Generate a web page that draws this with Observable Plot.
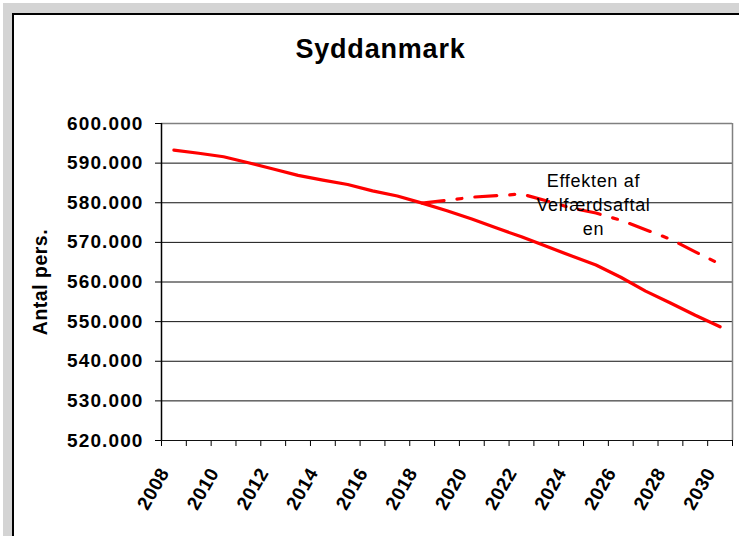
<!DOCTYPE html>
<html>
<head>
<meta charset="utf-8">
<script src="https://cdn.jsdelivr.net/npm/d3@7"></script>
<script src="https://cdn.jsdelivr.net/npm/@observablehq/plot@0.6"></script>
<style>
html, body { margin: 0; padding: 0; background: #fff; }
#wrap { position: relative; width: 739px; height: 536px; overflow: hidden; }
#gray { position: absolute; left: 3px; top: 3px; right: 0; bottom: 0; background: #d4d4d4; }
#panel { position: absolute; left: 12px; top: 13px; width: 800px; height: 600px; background: #fff; border-left: 2px solid #000; border-top: 2px solid #000; }
#title { position: absolute; left: 12px; width: 737px; top: 36px; text-align: center; font: bold 27px/27px "Liberation Sans", Arial, sans-serif; letter-spacing: 0.8px; color: #000; }
#chart { position: absolute; left: 0; top: 0; }
</style>
</head>
<body>
<div id="wrap">
  <div id="gray"></div>
  <div id="panel"></div>
  <div id="title">Syddanmark</div>
  <div id="chart"></div>
</div>
<script>
const years = [2008, 2009, 2010, 2011, 2012, 2013, 2014, 2015, 2016, 2017, 2018, 2019,
               2020, 2021, 2022, 2023, 2024, 2025, 2026, 2027, 2028, 2029, 2030];
const baseline = [593300, 592500, 591600, 590100, 588500, 586900, 585700, 584600, 583000, 581700,
                  579900, 578000, 575900, 573600, 571400, 569000, 566600, 564300, 561200, 557700,
                  554700, 551600, 548700];
const effectYears = [2018, 2019, 2020, 2021, 2022, 2023, 2024, 2025, 2026, 2027, 2028, 2029, 2030];
const effect = [579900, 580600, 581400, 581800, 582200, 580500, 578700, 577400, 575600, 573200,
                570800, 567600, 564500];
const xLabels = ["2008", "2010", "2012", "2014", "2016", "2018", "2020", "2022", "2024", "2026", "2028", "2030"];
const yTicks = [520000, 530000, 540000, 550000, 560000, 570000, 580000, 590000, 600000];
const yTitle = "Antal pers.";
const annotation = "Effekten af\nVelfærdsaftal\nen";
const annotationAt = {year: 2024.9, value: 579900};

const solid = years.map((year, i) => ({year, value: baseline[i]}));
const dashed = effectYears.map((year, i) => ({year, value: effect[i]}));
const xBounds = years.map(y => y - 0.5).concat([years[years.length - 1] + 0.5]);
const fmt = d => d3.format(",")(d).replace(/,/g, ".");

const chart = Plot.plot({
  width: 739,
  height: 536,
  marginLeft: 161,
  marginRight: 7,
  marginTop: 123,
  marginBottom: 96,
  style: {
    background: "transparent",
    fontFamily: "'Liberation Sans', Arial, sans-serif",
    fontSize: "19px",
    fontWeight: "bold",
    color: "#000",
    overflow: "visible"
  },
  x: {type: "linear", domain: [xBounds[0], xBounds[xBounds.length - 1]], ticks: xBounds, tickSize: 6, tickFormat: () => "", label: null},
  y: {domain: [520000, 600000], ticks: yTicks, tickSize: 6, tickPadding: 12, tickFormat: fmt, label: null},
  marks: [
    Plot.ruleY(yTicks.slice(0, -1), {stroke: "#111", strokeWidth: 1}),
    Plot.ruleY([yTicks[yTicks.length - 1]], {stroke: "#808080", strokeWidth: 1.5}),
    Plot.ruleX([xBounds[xBounds.length - 1]], {stroke: "#808080", strokeWidth: 1.5}),
    Plot.ruleX([xBounds[0]], {stroke: "#000", strokeWidth: 1.5}),
    Plot.line(solid, {x: "year", y: "value", stroke: "#ff0000", strokeWidth: 3.2}),
    Plot.line(dashed, {x: "year", y: "value", stroke: "#ff0000", strokeWidth: 3.2, strokeDasharray: "22,13,5,13"}),
    Plot.text(xLabels, {x: d => +d, text: d => d, frameAnchor: "bottom", rotate: -60, textAnchor: "end", dx: -4, dy: 32, fontWeight: "bold", fontSize: 19}),
    Plot.text([yTitle], {frameAnchor: "left", rotate: -90, textAnchor: "middle", dx: -121, fontWeight: "bold", fontSize: 19.5}),
    Plot.text([annotation], {x: annotationAt.year, y: annotationAt.value, fontWeight: "normal", fontSize: 18, lineHeight: 1.33, fill: "#000"})
  ]
});
document.getElementById("chart").appendChild(chart);

const sel = d3.select(chart);
sel.selectAll('[aria-label^="y-axis"] text').style("letter-spacing", "1.1px");
const textGroups = sel.selectAll('g[aria-label="text"]').nodes();
if (textGroups[0]) d3.select(textGroups[0]).selectAll("text").style("letter-spacing", "0.6px");
if (textGroups[1]) d3.select(textGroups[1]).selectAll("text").style("letter-spacing", "0.5px");
if (textGroups[2]) d3.select(textGroups[2]).selectAll("text").style("letter-spacing", "0.7px");
</script>
</body>
</html>
